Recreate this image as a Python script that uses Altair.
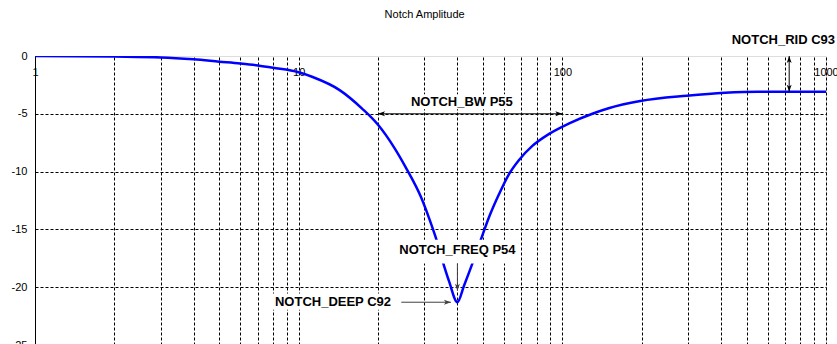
import altair as alt
import pandas as pd

# Notch filter response: frequency (Hz) and amplitude (dB)
freq = [1, 2, 3, 4, 5, 6, 7, 8, 10, 11.3, 14.3, 17.4, 20, 23, 25.5, 29.1,
        31.2, 33.1, 35.1, 37.2, 40, 42.4, 45.5, 49, 52.7, 57.5, 62.7, 68.4,
        76.8, 88.8, 105.7, 131.5, 149.8, 197.5, 296.5, 414, 553, 1000]
amp = [0, -0.05, -0.12, -0.29, -0.49, -0.65, -0.82, -1.02, -1.41, -1.82,
       -2.95, -4.55, -5.95, -7.9, -9.65, -12.2, -14.0, -15.7, -17.7,
       -19.5, -21.3, -19.85, -18.0, -15.94, -13.95, -11.96, -10.23, -9.01,
       -7.80, -6.76, -5.85, -4.95, -4.52, -3.90, -3.44, -3.18, -3.09, -3.09]

# Axis ticks
x_grid = [m * 10 ** k for k in range(3) for m in range(1, 10)] + [1000]
x_labels = [1, 10, 100, 1000]
y_ticks = [0, -5, -10, -15, -20, -25]

# Parameter annotations
notch_freq = 40
notch_deep = -21.3
notch_rid = -3.09
bw_low, bw_high, bw_level = 20, 100, -5
rid_freq = 725

ann_text = ["NOTCH_FREQ P54", "NOTCH_BW P55", "NOTCH_DEEP C92", "NOTCH_RID C93"]
ann_x = [notch_freq, 41.6, 22.4, 1000]
ann_y = [-16.8, -3.94, notch_deep, 1.4]
ann_align = ["center", "center", "right", "right"]
ann_dx = [0, 0, 0, 9]

# white label backgrounds (frequency / dB extents)
box_x1 = [22.8, 25.8, 7.9]
box_x2 = [67.2, 66.6, 23.0]
box_y1 = [-15.9, -3.3, -20.55]
box_y2 = [-17.95, -4.6, -21.95]

FONT = "Liberation Sans"
BLUE = "#0000ff"
DARK = "#404040"

curve = pd.DataFrame({"f": freq, "db": amp})

x_scale = alt.Scale(type="log", domain=[1, 1000], nice=False)
y_scale = alt.Scale(domain=[-25, 0], nice=False, zero=False)

label_test = " || ".join(f"datum.value == {v}" for v in x_labels)
x_axis = alt.Axis(
    orient="top", values=x_grid, grid=True, gridColor="black",
    gridDash=[3, 2], gridWidth=1, ticks=False, tickSize=0, domain=False,
    labelExpr=f"({label_test}) ? '' + datum.value : ''",
    labelPadding=-16, labelBaseline="middle", labelAlign="center",
    labelFlush=False, labelOverlap=False, labelBound=False,
    labelFont=FONT, labelFontSize=11, labelColor="black", title=None,
)
y_axis = alt.Axis(
    orient="left", values=y_ticks, grid=True, gridColor="black",
    gridDash=[3, 2], gridWidth=1,
    gridOpacity={"condition": {"test": "datum.value == 0", "value": 0}, "value": 1},
    ticks=False, tickSize=0, domain=True, domainColor="black", domainWidth=1,
    labelExpr="datum.value == 0 ? '0' : '-' + abs(datum.value)",
    labelPadding=8, labelFont=FONT, labelFontSize=11, labelColor="black",
    title=None,
)

line = alt.Chart(curve).mark_line(
    color=BLUE, strokeWidth=2.5, interpolate="monotone", clip=True
).encode(
    x=alt.X("f:Q", scale=x_scale, axis=x_axis),
    y=alt.Y("db:Q", scale=y_scale, axis=y_axis),
)

boxes = alt.Chart(pd.DataFrame({
    "x1": box_x1, "x2": box_x2, "y1": box_y1, "y2": box_y2
})).mark_rect(color="white").encode(
    x=alt.X("x1:Q", scale=x_scale), x2="x2:Q",
    y=alt.Y("y1:Q", scale=y_scale), y2="y2:Q",
)

# arrow shafts
shafts = pd.DataFrame({
    "x1": [bw_low, notch_freq, 24.5, rid_freq],
    "x2": [bw_high, notch_freq, 37.8, rid_freq],
    "y1": [bw_level, -17.95, notch_deep, 0],
    "y2": [bw_level, -20.3, notch_deep, notch_rid],
    "c": ["black", DARK, DARK, "black"],
})
rules = alt.Chart(shafts).mark_rule(strokeWidth=1).encode(
    x=alt.X("x1:Q", scale=x_scale), x2="x2:Q",
    y=alt.Y("y1:Q", scale=y_scale), y2="y2:Q",
    color=alt.Color("c:N", scale=None),
)

LEFT = "M0,0L2,-0.7L1.5,0L2,0.7Z"
RIGHT = "M0,0L-2,-0.7L-1.5,0L-2,0.7Z"
UP = "M0,0L-0.7,2L0,1.5L0.7,2Z"
DOWN = "M0,0L-0.7,-2L0,-1.5L0.7,-2Z"
heads = pd.DataFrame({
    "x": [bw_low, bw_high, notch_freq, 37.8, rid_freq, rid_freq],
    "y": [bw_level, bw_level, -20.3, notch_deep, 0, notch_rid],
    "shape": [LEFT, RIGHT, DOWN, RIGHT, UP, DOWN],
    "c": ["black", "black", DARK, DARK, "black", "black"],
})
tips = alt.Chart(heads).mark_point(filled=True, size=49, opacity=1, strokeWidth=0).encode(
    x=alt.X("x:Q", scale=x_scale),
    y=alt.Y("y:Q", scale=y_scale),
    shape=alt.Shape("shape:N", scale=None),
    color=alt.Color("c:N", scale=None),
)

texts = []
for t, xv, yv, al, dx in zip(ann_text, ann_x, ann_y, ann_align, ann_dx):
    texts.append(
        alt.Chart(pd.DataFrame({"t": [t], "x": [xv], "y": [yv]})).mark_text(
            font=FONT, fontSize=13, fontWeight="bold", color="black",
            align=al, baseline="middle", dx=dx,
        ).encode(
            x=alt.X("x:Q", scale=x_scale),
            y=alt.Y("y:Q", scale=y_scale),
            text="t:N",
        )
    )

chart = alt.layer(line, boxes, rules, tips, *texts).properties(
    width=791, height=289,
    title=alt.TitleParams(
        "Notch Amplitude", font=FONT, fontSize=11, fontWeight="normal",
        color="black", anchor="middle", frame="bounds", offset=14,
    ),
    autosize=alt.AutoSizeParams(type="none"),
    padding={"left": 35, "top": 56, "right": 11, "bottom": 0},
).configure_view(
    stroke="#808080", strokeWidth=1
).configure(background="white")

chart.save("out.html", embed_options={"renderer": "svg", "actions": False})
